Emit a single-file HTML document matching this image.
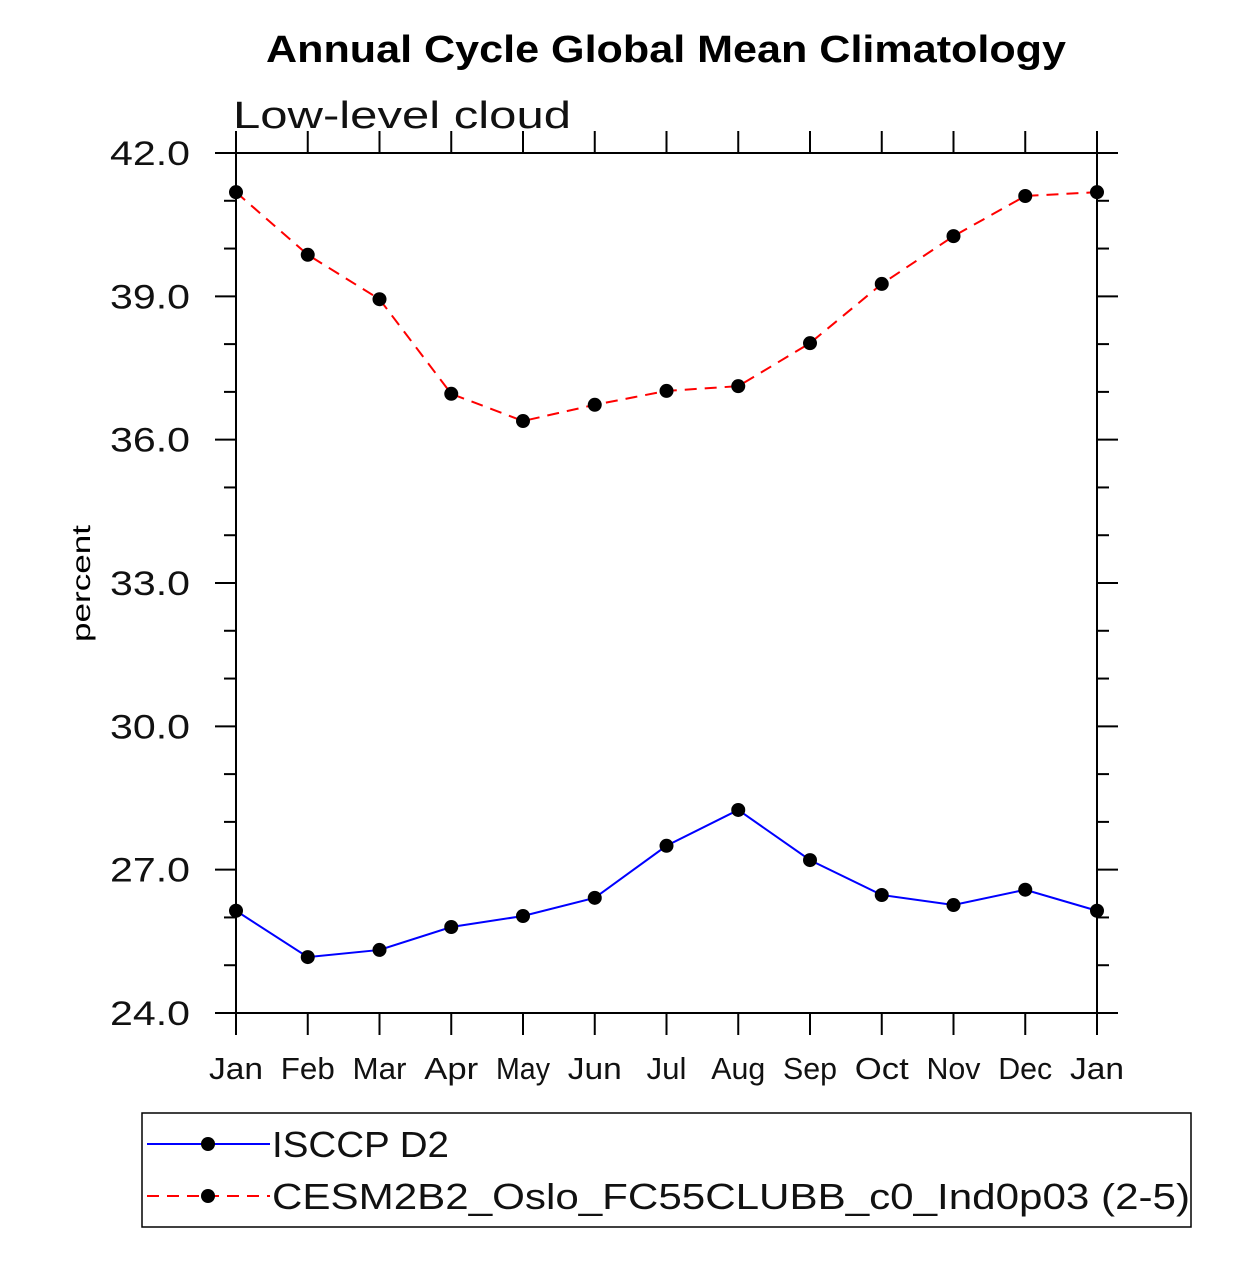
<!DOCTYPE html>
<html><head><meta charset="utf-8"><style>
body{margin:0;background:#fff}
svg text{font-family:"Liberation Sans",sans-serif}
</style></head><body>
<svg id="chart" width="1258" height="1258" viewBox="0 0 1258 1258" xmlns="http://www.w3.org/2000/svg">
<rect width="1258" height="1258" fill="#fff"/>
<text x="266" y="62" font-size="38" font-weight="bold" textLength="800" lengthAdjust="spacingAndGlyphs">Annual Cycle Global Mean Climatology</text>
<text x="233" y="128" font-size="38" fill="#111" textLength="338" lengthAdjust="spacingAndGlyphs">Low-level cloud</text>
<text transform="translate(90,642) rotate(-90)" font-size="26" textLength="117" lengthAdjust="spacingAndGlyphs">percent</text>
<g id="axes"></g>
<g id="series"></g>
<g>
<rect x="142" y="1113" width="1049" height="114" fill="none" stroke="#000" stroke-width="1.5"/>
<line x1="147" y1="1144" x2="270" y2="1144" stroke="#0000ff" stroke-width="2"/>
<circle cx="208" cy="1144" r="7" fill="#000"/>
<text x="272" y="1157" font-size="36" fill="#111" textLength="177" lengthAdjust="spacingAndGlyphs">ISCCP D2</text>
<line x1="147" y1="1196" x2="270" y2="1196" stroke="#ff0000" stroke-width="2" stroke-dasharray="12,8"/>
<circle cx="208" cy="1196" r="7" fill="#000"/>
<text x="272" y="1209" font-size="36" fill="#111" textLength="918" lengthAdjust="spacingAndGlyphs">CESM2B2_Oslo_FC55CLUBB_c0_Ind0p03 (2-5)</text>
</g>
</svg>
<script>
const months=["Jan","Feb","Mar","Apr","May","Jun","Jul","Aug","Sep","Oct","Nov","Dec","Jan"];
const yTicks=[24,27,30,33,36,39,42];
const yTickLabels=["24.0","27.0","30.0","33.0","36.0","39.0","42.0"];
const isccp=[26.14,25.17,25.32,25.80,26.03,26.41,27.50,28.25,27.20,26.47,26.26,26.58,26.14];
const cesm=[41.18,39.87,38.94,36.96,36.39,36.73,37.02,37.12,38.02,39.26,40.26,41.10,41.18];
const NS="http://www.w3.org/2000/svg";
const L=236,R=1097,T=153,B=1013,ymin=24,ymax=42;
const xs=i=>L+(R-L)*i/(months.length-1);
const ys=v=>B-(v-ymin)/(ymax-ymin)*(B-T);
function mk(tag,attrs,parent){const e=document.createElementNS(NS,tag);for(const k in attrs)e.setAttribute(k,attrs[k]);parent.appendChild(e);return e;}
const ax=document.getElementById('axes');
const frame=mk('rect',{x:L,y:T,width:R-L,height:B-T,fill:'none',stroke:'#000','stroke-width':2},ax);


for(let v=ymin;v<=ymax;v++){
  const y=ys(v);const major=(v-ymin)%3===0;const len=major?21:12;
  mk('line',{x1:L-len,y1:y,x2:L,y2:y,stroke:'#000','stroke-width':2},ax);
  mk('line',{x1:R,y1:y,x2:R+len,y2:y,stroke:'#000','stroke-width':2},ax);
}
yTicks.forEach((v,i)=>{
  const t=mk('text',{x:110,y:ys(v)+12,'font-size':34,fill:'#111',textLength:80,lengthAdjust:'spacingAndGlyphs'},ax);
  t.textContent=yTickLabels[i];
  
  
});
months.forEach((m,i)=>{
  const x=xs(i);
  mk('line',{x1:x,y1:B,x2:x,y2:B+22,stroke:'#000','stroke-width':2},ax);
  mk('line',{x1:x,y1:T-22,x2:x,y2:T,stroke:'#000','stroke-width':2},ax);
  const w=m==="Jul"?40:54;
  const t=mk('text',{x:x-w/2,y:1079,'font-size':31,fill:'#111',textLength:w,lengthAdjust:'spacingAndGlyphs'},ax);
  t.textContent=m;
  
  
});
const sg=document.getElementById('series');
function series(vals,color,dash,name){
  const p=mk('polyline',{points:vals.map((v,i)=>xs(i)+','+ys(v)).join(' '),fill:'none',stroke:color,'stroke-width':2,'stroke-dasharray':dash},sg);
  
  
  vals.forEach((v,i)=>{
    const c=mk('circle',{cx:xs(i),cy:ys(v),r:7,fill:'#000'},sg);
    
    
  });
}
series(cesm,'#ff0000','12,8','cesm');
series(isccp,'#0000ff','none','isccp');
</script>
</body></html>
